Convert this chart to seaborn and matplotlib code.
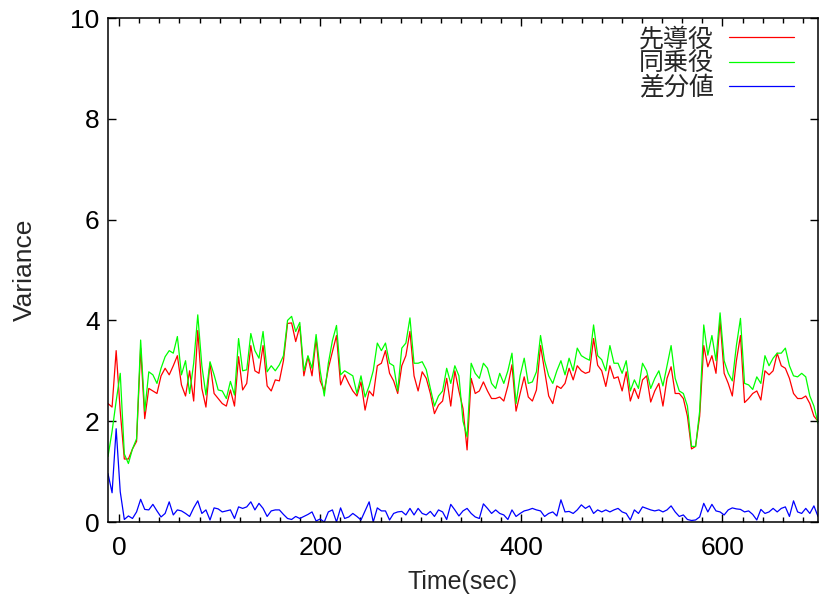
import numpy as np
import pandas as pd
import seaborn as sns
import matplotlib
matplotlib.use("Agg")
import matplotlib.pyplot as plt
from matplotlib.ticker import MultipleLocator

# Sampling grid (seconds), one sample roughly every 4 s
time = np.linspace(-11, 695, 175)

leader = [  # 先導役
    2.35, 2.28, 3.4, 2.2, 1.25, 1.25, 1.45, 1.6, 3.45, 2.05, 2.65, 2.6, 2.55, 2.9, 3.05,
    2.92, 3.1, 3.3, 2.72, 2.5, 3.0, 2.4, 3.8, 2.65, 2.28, 3.15, 2.55, 2.45, 2.35, 2.3,
    2.62, 2.3, 3.28, 2.62, 2.75, 3.5, 3.0, 2.95, 3.5, 2.7, 2.6, 2.82, 2.8, 3.2, 3.94,
    3.95, 3.58, 3.88, 2.9, 3.28, 2.9, 3.64, 2.8, 2.6, 3.05, 3.38, 3.7, 2.72, 2.92,
    2.75, 2.6, 2.5, 2.78, 2.22, 2.6, 2.5, 3.1, 3.15, 3.4, 2.95, 2.8, 2.55, 3.1, 3.3,
    3.78, 2.9, 2.6, 2.98, 2.85, 2.55, 2.15, 2.32, 2.4, 2.85, 2.3, 3.0, 2.6, 2.25,
    1.43, 2.85, 2.55, 2.6, 2.78, 2.6, 2.45, 2.45, 2.48, 2.4, 2.7, 3.12, 2.2, 2.55, 2.88,
    2.48, 2.4, 2.62, 3.5, 3.0, 2.5, 2.35, 2.7, 2.65, 2.75, 3.05, 2.82, 3.1, 3.0,
    2.95, 2.98, 3.64, 3.11, 3.0, 2.69, 3.1, 2.85, 2.88, 2.6, 2.98, 2.4, 2.65, 2.45, 2.82,
    2.9, 2.38, 2.6, 2.75, 2.3, 2.85, 3.08, 2.55, 2.55, 2.45, 2.1, 1.45, 1.5, 2.1,
    3.5, 3.08, 3.3, 2.95, 4.0, 2.95, 2.75, 2.5, 3.2, 3.7, 2.37, 2.45, 2.55, 2.6, 2.42,
    3.0, 2.92, 3.0, 3.35, 3.1, 3.05, 2.85, 2.55, 2.45, 2.45, 2.5, 2.35, 2.1, 2.0,
]

passenger = [  # 同乗役
    1.3, 1.8, 2.4, 2.95, 1.35, 1.16, 1.45, 1.65, 3.61, 2.2, 2.98, 2.92, 2.75, 3.05, 3.28,
    3.4, 3.35, 3.68, 2.92, 3.2, 2.55, 3.15, 4.11, 3.1, 2.52, 3.18, 2.92, 2.62, 2.6, 2.45,
    2.79, 2.52, 3.64, 3.0, 3.02, 3.74, 3.4, 3.25, 3.78, 2.98, 3.1, 3.0, 3.12, 3.3, 4.0,
    4.08, 3.78, 3.96, 3.0, 3.3, 3.05, 3.72, 3.0, 2.5, 3.15, 3.6, 3.9, 2.92, 3.0,
    2.95, 2.9, 2.55, 2.9, 2.48, 2.7, 3.0, 3.55, 3.4, 3.55, 3.15, 3.1, 2.6, 3.45, 3.55,
    4.05, 3.15, 3.15, 3.18, 3.02, 2.65, 2.3, 2.5, 2.6, 3.05, 2.75, 3.1, 2.9, 2.0,
    1.69, 3.15, 2.95, 2.85, 3.15, 3.05, 2.75, 2.65, 2.95, 2.75, 3.0, 3.35, 2.35, 2.9, 3.25,
    2.75, 2.78, 2.98, 3.7, 3.2, 2.9, 2.75, 3.0, 3.2, 2.92, 3.25, 3.0, 3.45, 3.3,
    3.25, 3.21, 3.91, 3.3, 3.22, 3.0, 3.5, 3.15, 3.15, 2.95, 3.2, 2.6, 2.82, 2.65, 3.15,
    3.0, 2.65, 2.85, 3.0, 2.7, 3.1, 3.5, 2.85, 2.6, 2.55, 2.3, 1.5, 1.5, 2.2,
    3.91, 3.31, 3.7, 3.2, 4.15, 3.2, 2.95, 2.8, 3.5, 4.04, 2.75, 2.72, 2.63, 2.88, 2.75,
    3.3, 3.1, 3.25, 3.35, 3.35, 3.45, 3.1, 2.9, 2.88, 2.95, 2.88, 2.5, 2.3, 1.96,
]

difference = [  # 差分値
    0.96, 0.58, 1.85, 0.6, 0.05, 0.12, 0.07, 0.2, 0.45, 0.25, 0.24, 0.35, 0.22, 0.1, 0.17,
    0.4, 0.14, 0.24, 0.22, 0.17, 0.11, 0.28, 0.42, 0.17, 0.24, 0.04, 0.28, 0.26, 0.2, 0.22,
    0.24, 0.07, 0.30, 0.27, 0.30, 0.40, 0.24, 0.37, 0.27, 0.11, 0.22, 0.24, 0.24, 0.15, 0.07,
    0.05, 0.11, 0.07, 0.11, 0.15, 0.2, 0.02, 0.06, 0.0, 0.2, 0.24, 0.0, 0.28, 0.07,
    0.1, 0.17, 0.11, 0.04, 0.22, 0.4, 0.0, 0.28, 0.22, 0.22, 0.04, 0.17, 0.2, 0.21, 0.14,
    0.27, 0.14, 0.27, 0.17, 0.14, 0.21, 0.11, 0.24, 0.2, 0.05, 0.35, 0.24, 0.12, 0.22,
    0.27, 0.17, 0.1, 0.07, 0.36, 0.27, 0.17, 0.24, 0.17, 0.14, 0.05, 0.24, 0.11, 0.17, 0.22,
    0.24, 0.27, 0.24, 0.22, 0.11, 0.17, 0.2, 0.12, 0.44, 0.2, 0.21, 0.17, 0.24, 0.34,
    0.27, 0.32, 0.17, 0.24, 0.2, 0.24, 0.2, 0.24, 0.27, 0.2, 0.17, 0.04, 0.24, 0.17, 0.3,
    0.27, 0.24, 0.22, 0.24, 0.2, 0.24, 0.32, 0.2, 0.11, 0.14, 0.05, 0.03, 0.04, 0.1,
    0.37, 0.2, 0.35, 0.22, 0.2, 0.14, 0.24, 0.28, 0.26, 0.25, 0.2, 0.22, 0.15, 0.04, 0.25,
    0.17, 0.2, 0.27, 0.2, 0.27, 0.3, 0.11, 0.42, 0.2, 0.17, 0.27, 0.17, 0.32, 0.11,
]

series_names = ["先導役", "同乗役", "差分値"]
series_colors = ["#ff0000", "#00ff00", "#0000ff"]

df = pd.concat(
    [
        pd.DataFrame({"time": time, "value": vals, "series": name})
        for name, vals in zip(series_names, [leader, passenger, difference])
    ],
    ignore_index=True,
)

sns.set_style("ticks")
plt.rcParams["font.family"] = ["Liberation Sans", "Noto Sans CJK JP"]

fig = plt.figure(figsize=(8.19, 6.0), dpi=100)
ax = fig.add_axes([108 / 819, 78 / 600, 710 / 819, 504 / 600])

sns.lineplot(
    data=df, x="time", y="value", hue="series", hue_order=series_names,
    palette=dict(zip(series_names, series_colors)), linewidth=0.9, ax=ax,
)

ax.set_xlim(-11, 695)
ax.set_ylim(0, 10)
ax.xaxis.set_major_locator(MultipleLocator(200))
ax.xaxis.set_minor_locator(MultipleLocator(20))
ax.yaxis.set_major_locator(MultipleLocator(2))
ax.tick_params(which="both", direction="in", top=True, right=True, labelsize=19,
               colors="black", width=1)
ax.tick_params(which="major", length=6)
ax.tick_params(which="minor", length=3.5)
ax.tick_params(axis="x", pad=10)
ax.tick_params(axis="y", pad=6)
for sp in ax.spines.values():
    sp.set_visible(True)
    sp.set_color("black")
    sp.set_linewidth(1.1)

ax.set_xlabel("Time(sec)", fontsize=18, labelpad=7)
ax.set_ylabel("Variance", fontsize=19, labelpad=24)

ax.legend(
    loc="upper right", bbox_to_anchor=((794 - 108) / 710, (522 - 27) / 504),
    frameon=False, markerfirst=False, fontsize=18, handlelength=2.6,
    handletextpad=0.6, labelspacing=0.02, borderaxespad=0, borderpad=0,
)

fig.savefig("out.png", dpi=100)
